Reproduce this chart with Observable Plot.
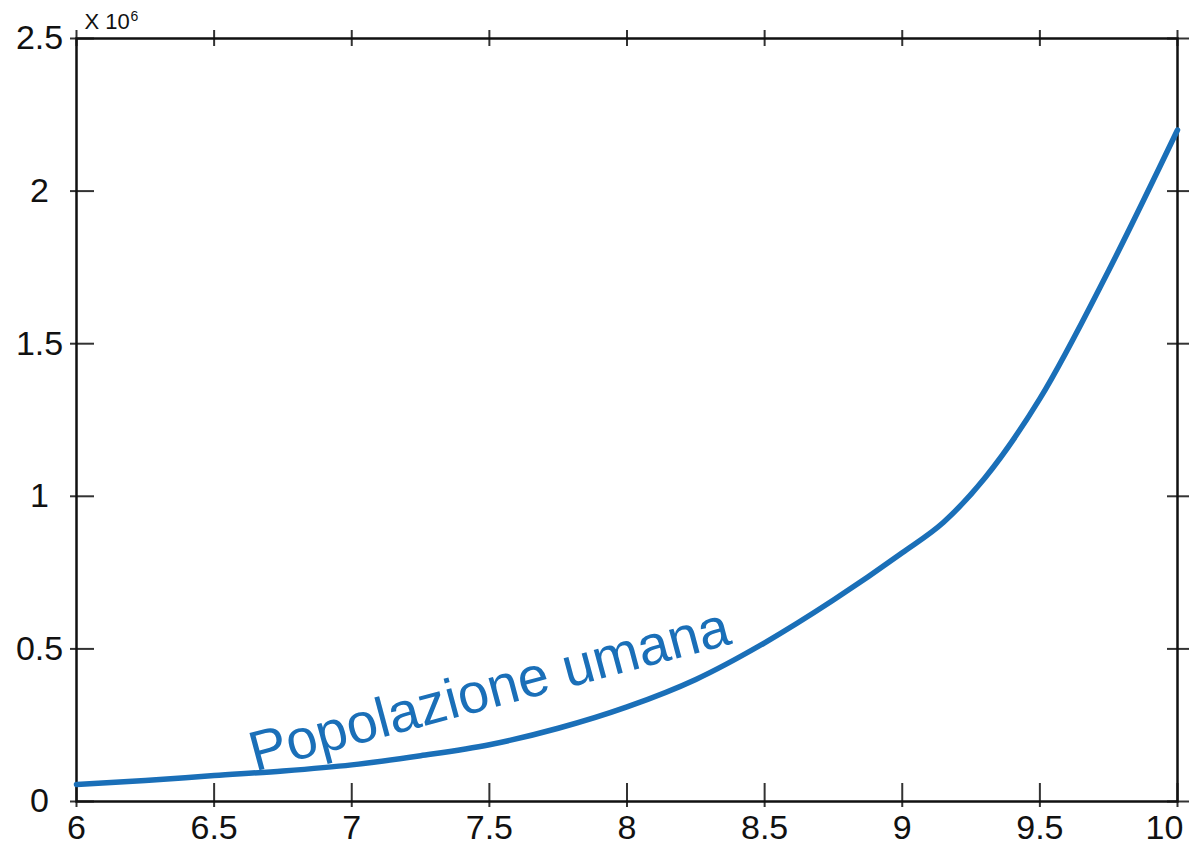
<!DOCTYPE html>
<html>
<head>
<meta charset="utf-8">
<script src="https://cdn.jsdelivr.net/npm/d3@7"></script>
<script src="https://cdn.jsdelivr.net/npm/@observablehq/plot@0.6"></script>
<style>
  html, body { margin: 0; padding: 0; background: #fff; }
  #chart svg { display: block; font-family: "Liberation Sans", Arial, sans-serif; }
</style>
</head>
<body>
<div id="chart"></div>
<script>
// x values (as on the axis) and population (in millions, i.e. × 10^6)
const xValues = [6, 6.25, 6.5, 6.75, 7, 7.25, 7.5, 7.75, 8, 8.25, 8.5, 8.75, 9, 9.15, 9.3, 9.5, 9.75, 10];
const population = [0.056, 0.069, 0.085, 0.10, 0.12, 0.15, 0.186, 0.24, 0.31, 0.40, 0.52, 0.66, 0.815, 0.915, 1.06, 1.32, 1.74, 2.2];
const xTicks = [6, 6.5, 7, 7.5, 8, 8.5, 9, 9.5, 10];
const xTickLabelsInner = [6, 6.5, 7, 7.5, 8, 8.5, 9, 9.5];
const xTickLabelsLast = [10];
const yTicks = [0, 0.5, 1, 1.5, 2, 2.5];
const seriesLabel = "Popolazione umana";
const labelPos = {x: 7.5, y: 0.365};

const data = xValues.map((x, i) => ({x, y: population[i]}));
const fmt = d => String(d);
const blue = "#1a6fb8";

const chart = Plot.plot({
  width: 1190,
  height: 848,
  marginLeft: 76,
  marginRight: 13,
  marginTop: 38,
  marginBottom: 47,
  style: {fontFamily: "'Liberation Sans', Arial, sans-serif", background: "#fff"},
  x: {domain: [6, 10], label: null},
  y: {domain: [0, 2.5], label: null},
  marks: [
    // bottom ticks (crossing frame)
    Plot.axisX({anchor: "bottom", ticks: xTicks, tickSize: 24, dy: -18, text: null, stroke: "#333", strokeWidth: 2, label: null}),
    // bottom labels
    Plot.axisX({anchor: "bottom", ticks: xTickLabelsInner, tickSize: 0, tickPadding: 13, tickFormat: fmt, fontSize: 34, fill: "#111", label: null}),
    Plot.axisX({anchor: "bottom", ticks: xTickLabelsLast, tickSize: 0, tickPadding: 13, dx: -13, tickFormat: fmt, fontSize: 34, fill: "#111", label: null}),
    // top ticks
    Plot.axisX({anchor: "top", ticks: xTicks, tickSize: 16, dy: 7, text: null, stroke: "#333", strokeWidth: 2, label: null}),
    // left ticks
    Plot.axisY({anchor: "left", ticks: yTicks, tickSize: 24, dx: 18, text: null, stroke: "#333", strokeWidth: 2, label: null}),
    // left labels
    Plot.axisY({anchor: "left", ticks: yTicks, tickSize: 0, tickPadding: 0, dx: -37, tickFormat: fmt, textAnchor: "middle", fontSize: 34, fill: "#111", label: null}),
    // right ticks
    Plot.axisY({anchor: "right", ticks: yTicks, tickSize: 22, dx: -11, text: null, stroke: "#333", strokeWidth: 2, label: null}),
    Plot.frame({stroke: "#111", strokeWidth: 2.5}),
    Plot.line(data, {x: "x", y: "y", stroke: blue, strokeWidth: 5.5, curve: "monotone-x"}),
    Plot.text([labelPos], {x: "x", y: "y", text: () => seriesLabel, rotate: -15, fontSize: 56, fill: blue}),
    Plot.text(["X 10"], {frameAnchor: "top-left", dx: 8, dy: -17, text: d => d, fontSize: 22, textAnchor: "start", lineAnchor: "middle", fill: "#111"}),
    Plot.text(["6"], {frameAnchor: "top-left", dx: 54, dy: -22, text: d => d, fontSize: 14, textAnchor: "start", lineAnchor: "middle", fill: "#111"})
  ]
});
document.getElementById("chart").appendChild(chart);
</script>
</body>
</html>
